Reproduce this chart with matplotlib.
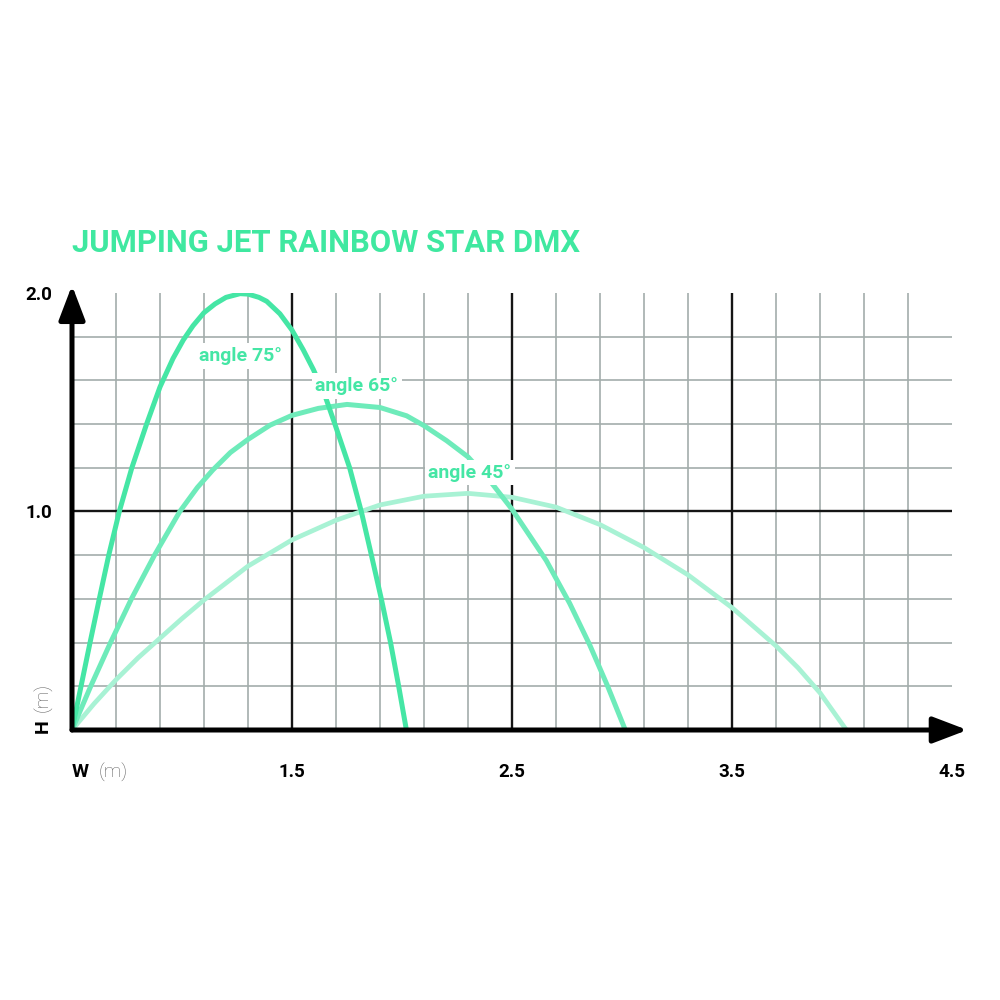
import matplotlib
matplotlib.use('Agg')
import matplotlib.pyplot as plt

# Trajectories (W in m, H in m).
w_75 = [0.5, 0.541, 0.582, 0.624, 0.667, 0.715, 0.772, 0.839, 0.9, 0.959, 1.006, 1.05,
        1.1, 1.15, 1.2, 1.264, 1.3, 1.35, 1.385, 1.445, 1.5, 1.551, 1.597, 1.65, 1.695,
        1.762, 1.815, 1.861, 1.906, 1.948, 1.985, 2.02]
h_75 = [0.0, 0.2, 0.4, 0.6, 0.8, 1.0, 1.2, 1.4, 1.57, 1.70, 1.785, 1.85,
        1.91, 1.95, 1.98, 1.997, 1.995, 1.98, 1.962, 1.905, 1.83, 1.74, 1.65, 1.53, 1.4,
        1.2, 1.0, 0.8, 0.6, 0.4, 0.2, 0.0]

w_65 = [0.5, 0.585, 0.675, 0.77, 0.875, 0.99, 1.07, 1.14, 1.22, 1.3, 1.4, 1.5, 1.62, 1.75,
        1.9, 2.021, 2.1, 2.203, 2.3, 2.4, 2.5, 2.58, 2.656, 2.762, 2.853, 2.935, 3.015]
h_65 = [0.0, 0.2, 0.4, 0.6, 0.8, 1.0, 1.11, 1.19, 1.27, 1.33, 1.395, 1.44, 1.472, 1.49,
        1.476, 1.438, 1.393, 1.324, 1.25, 1.14, 1.01, 0.89, 0.775, 0.58, 0.39, 0.2, 0.0]

w_45 = [0.5, 0.6, 0.7, 0.8, 0.9, 1.0, 1.1, 1.3, 1.5, 1.7, 1.9, 2.1, 2.3, 2.5, 2.7, 2.9,
        3.1, 3.3, 3.5, 3.7, 3.8, 3.9, 4.02]
h_45 = [0.0, 0.12, 0.23, 0.33, 0.42, 0.51, 0.595, 0.75, 0.87, 0.96, 1.03, 1.07, 1.083,
        1.065, 1.02, 0.94, 0.835, 0.71, 0.56, 0.385, 0.285, 0.17, 0.0]

labels = ['angle 75°', 'angle 65°', 'angle 45°']
label_pos = [(1.264, 1.712), (1.795, 1.575), (2.309, 1.178)]
colors = ['#45e6a5', '#6eebba', '#a8f2d4']

x_ticks = [1.5, 2.5, 3.5, 4.5]
y_ticks = [1.0, 2.0]
minor_x = [0.7, 0.9, 1.1, 1.3, 1.7, 1.9, 2.1, 2.3, 2.7, 2.9, 3.1, 3.3, 3.7, 3.9, 4.1, 4.3]
minor_y = [0.2, 0.4, 0.6, 0.8, 1.2, 1.4, 1.6, 1.8]
major_x = [1.5, 2.5, 3.5]
major_y = [1.0]

plt.rcParams['font.family'] = ['Roboto', 'DejaVu Sans']

fig = plt.figure(figsize=(10, 10), dpi=100)
ax = fig.add_axes([0.072, 0.27, 0.88, 0.437])
ax.set_xlim(0.5, 4.5)
ax.set_ylim(0, 2.0)

grid_col = '#a3adab'
for x in minor_x:
    ax.plot([x, x], [0, 2.0], color=grid_col, lw=1.2, zorder=1)
for y in minor_y:
    ax.plot([0.5, 4.5], [y, y], color=grid_col, lw=1.2, zorder=1)
for x in major_x:
    ax.plot([x, x], [0, 2.0], color='#151515', lw=1.7, zorder=2)
for y in major_y:
    ax.plot([0.5, 4.5], [y, y], color='#151515', lw=1.7, zorder=2)

ax.plot(w_45, h_45, color=colors[2], lw=3.4, zorder=3, solid_joinstyle='round')
ax.plot(w_65, h_65, color=colors[1], lw=3.6, zorder=4, solid_joinstyle='round')
ax.plot(w_75, h_75, color=colors[0], lw=3.6, zorder=5, solid_joinstyle='round')

for lab, (lx, ly) in zip(labels, label_pos):
    ax.text(lx, ly, lab, color='#45e6a5', fontsize=14, fontweight='bold',
            ha='center', va='center', zorder=6,
            bbox=dict(boxstyle='square,pad=0.2', fc='white', ec='none'))

# Axis arrows
ax.annotate('', xy=(4.57, 0), xytext=(0.5, 0), annotation_clip=False,
            arrowprops=dict(arrowstyle='-|>,head_length=2.1,head_width=0.8', lw=3.6,
                            color='black', mutation_scale=10, shrinkA=0, shrinkB=0),
            zorder=7)
ax.annotate('', xy=(0.5, 2.035), xytext=(0.5, 0), annotation_clip=False,
            arrowprops=dict(arrowstyle='-|>,head_length=2.1,head_width=0.8', lw=3.6,
                            color='black', mutation_scale=10, shrinkA=0, shrinkB=0),
            zorder=7)

for s in ax.spines.values():
    s.set_visible(False)
ax.set_xticks(x_ticks)
ax.set_xticklabels([str(v) for v in x_ticks])
ax.set_yticks(y_ticks)
ax.set_yticklabels([str(v) for v in y_ticks])
ax.tick_params(length=0, labelsize=13.5, pad=14)
ax.tick_params(axis='x', pad=24)
for t in ax.get_xticklabels() + ax.get_yticklabels():
    t.set_fontweight('bold')

fig.text(0.072, 0.228, 'W', fontsize=14, fontweight='bold', ha='left', va='center')
fig.text(0.099, 0.228, '(m)', fontsize=14, color='#5f5f5f', fontweight='light',
         ha='left', va='center')
fig.text(0.043, 0.274, 'H', fontsize=14, fontweight='bold', ha='center', va='center',
         rotation=90)
fig.text(0.043, 0.288, '(m)', fontsize=14, color='#5f5f5f', fontweight='light',
         ha='center', va='bottom', rotation=90)

fig.text(0.072, 0.757, 'JUMPING JET RAINBOW STAR DMX', fontsize=22.3, fontweight='bold',
         color='#3fe8a0', ha='left', va='center')

fig.savefig('out.png', dpi=100, facecolor='white')
